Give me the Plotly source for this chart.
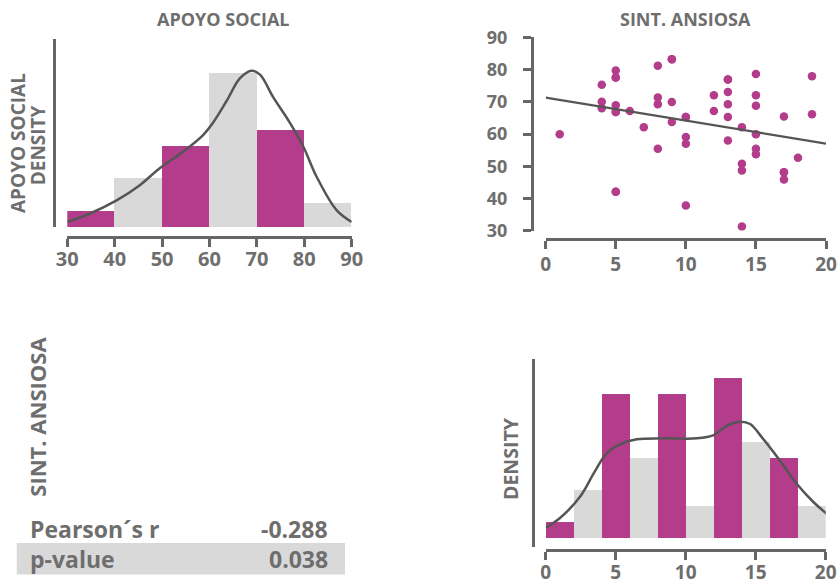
import plotly.graph_objects as go

# ---------------- data ----------------
# Histogram of APOYO SOCIAL (counts per bin)
apoyo_bins = [30, 40, 50, 60, 70, 80, 90]
apoyo_counts = [2, 6, 10, 19, 12, 3]
# density curve of APOYO SOCIAL
apoyo_kde_x = [30, 34.8, 40.4, 45.3, 49.5, 54.4, 58.6, 60.7, 63.7, 66.4, 68.9, 70.7, 73.4, 77.0, 79.8, 82.6, 86.8, 90]
apoyo_kde_y = [0.0012, 0.0032, 0.0063, 0.0099, 0.0139, 0.0178, 0.0217, 0.0246, 0.0300, 0.0352, 0.0370, 0.0360,
               0.0308, 0.0246, 0.0190, 0.0119, 0.0040, 0.0012]

# Histogram of SINT. ANSIOSA
ansiosa_bins = [0, 2, 4, 6, 8, 10, 12, 14, 16, 18, 20]
ansiosa_counts = [1, 3, 9, 5, 9, 2, 10, 6, 5, 2]
ansiosa_kde_x = [0, 1.0, 2.45, 3.5, 4.35, 5.3, 6.5, 8.4, 10.8, 12.0, 12.9, 13.9, 14.6, 15.5, 16.7, 17.9, 19.1, 20.1]
ansiosa_kde_y = [0.0066, 0.0123, 0.0252, 0.0403, 0.0513, 0.0567, 0.0597, 0.0603, 0.0603, 0.0623, 0.0677, 0.0703,
                 0.0689, 0.0603, 0.0473, 0.0333, 0.0222, 0.0148]

# Scatter: SINT. ANSIOSA (x) vs APOYO SOCIAL (y)
sint_ansiosa = [1, 4, 4, 4, 5, 5, 5, 5, 5, 6, 7, 8, 8, 8, 8, 9, 9, 9, 10, 10, 10, 10, 12, 12, 13, 13, 13, 13, 13,
                14, 14, 14, 14, 15, 15, 15, 15, 15, 15, 17, 17, 17, 18, 19, 19,
                9, 5, 17, 5, 13, 5, 10]
apoyo_social = [59.9, 75.3, 70.0, 68.0, 79.7, 77.5, 68.9, 66.8, 42.1, 67.1, 62.1, 81.2, 71.3, 69.2, 55.4, 83.2,
                69.9, 63.7, 65.3, 59.1, 57.0, 37.8, 72.0, 67.1, 76.9, 73.0, 69.2, 65.3, 58.0, 62.1, 50.8, 48.7,
                31.3, 78.6, 72.0, 68.8, 59.9, 55.4, 53.7, 65.4, 48.1, 45.9, 52.6, 77.9, 66.1,
                83.2, 42.1, 48.1, 77.5, 76.9, 66.8, 65.3]
fit_x = [0, 20]
fit_y = [71.3, 57.0]

stat_labels = ["Pearson´s r", "p-value"]
stat_values = ["-0.288", "0.038"]

apoyo_ticks = [30, 40, 50, 60, 70, 80, 90]
scatter_yticks = [30, 40, 50, 60, 70, 80, 90]
ansiosa_ticks = [0, 5, 10, 15, 20]

# ---------------- style ----------------
MAGENTA = "rgb(179,60,139)"
LIGHT = "rgb(217,217,217)"
TXT = "#6e6e6e"
AX = "#666666"
CURVE = "#555555"
FONT = "Open Sans"
W, H = 840, 587

def px_x(p):
    return p / W

def px_y(p):
    return 1 - p / H

n = len(sint_ansiosa)

fig = go.Figure()

def hist_trace(bins, counts, xa, ya):
    centers = [(bins[i] + bins[i + 1]) / 2 for i in range(len(counts))]
    widths = [bins[i + 1] - bins[i] for i in range(len(counts))]
    dens = [c / (n * w) for c, w in zip(counts, widths)]
    colors = [MAGENTA if i % 2 == 0 else LIGHT for i in range(len(counts))]
    return go.Bar(x=centers, y=dens, width=widths, marker=dict(color=colors, line=dict(width=0)),
                  xaxis=xa, yaxis=ya, showlegend=False, hoverinfo="skip")

fig.add_trace(hist_trace(apoyo_bins, apoyo_counts, "x", "y"))
fig.add_trace(go.Scatter(x=apoyo_kde_x, y=apoyo_kde_y, mode="lines", line=dict(color=CURVE, width=2.5, shape="spline"),
                         xaxis="x", yaxis="y", showlegend=False, cliponaxis=False))

fig.add_trace(go.Scatter(x=sint_ansiosa, y=apoyo_social, mode="markers",
                         marker=dict(color=MAGENTA, size=8.5, line=dict(width=0)),
                         xaxis="x2", yaxis="y2", showlegend=False))
fig.add_trace(go.Scatter(x=fit_x, y=fit_y, mode="lines", line=dict(color=CURVE, width=2.2),
                         xaxis="x2", yaxis="y2", showlegend=False))

fig.add_trace(hist_trace(ansiosa_bins, ansiosa_counts, "x3", "y3"))
fig.add_trace(go.Scatter(x=ansiosa_kde_x, y=ansiosa_kde_y, mode="lines", line=dict(color=CURVE, width=2.5, shape="spline"),
                         xaxis="x3", yaxis="y3", showlegend=False, cliponaxis=False))

def tf(size):
    return dict(family=FONT, size=size, color=TXT, weight="bold")

axis_common = dict(showgrid=False, zeroline=False, showline=True, linecolor=AX, linewidth=2.5,
                   automargin=False, tickcolor=AX, tickwidth=2.5, ticklen=8)

fig.update_layout(
    template="none",
    width=W, height=H, autosize=False,
    margin=dict(l=0, r=0, t=0, b=0, pad=0),
    paper_bgcolor="white", plot_bgcolor="white",
    bargap=0,
    showlegend=False,
    xaxis=dict(**axis_common, domain=[px_x(67.3), px_x(351.7)], range=[30, 90], anchor="free",
               position=px_y(237), tickvals=apoyo_ticks, ticks="outside", tickfont=tf(20), ticklabelstandoff=-5),
    yaxis=dict(**axis_common, domain=[px_y(227), px_y(39)], range=[0, 0.0445], anchor="free",
               position=px_x(54.3), showticklabels=False, ticks=""),
    xaxis2=dict(**axis_common, domain=[px_x(545.7), px_x(826)], range=[0, 20], anchor="free",
                position=px_y(239), tickvals=ansiosa_ticks, ticks="outside", tickfont=tf(19), ticklabelstandoff=-1),
    yaxis2=dict(**axis_common, domain=[px_y(230.7), px_y(37.3)], range=[30, 90], anchor="free",
                position=px_x(531.7), tickvals=scatter_yticks, ticks="outside", tickfont=tf(18), ticklabelstandoff=12),
    xaxis3=dict(**axis_common, domain=[px_x(545.7), px_x(825.7)], range=[0, 20], anchor="free",
                position=px_y(550), tickvals=ansiosa_ticks, ticks="outside", tickfont=tf(19), ticklabelstandoff=-4),
    yaxis3=dict(**axis_common, domain=[px_y(546.7), px_y(359.3)], range=[-0.0048, 0.1078], anchor="free",
                position=px_x(533.3), showticklabels=False, ticks=""),
)

def ann(text, x, y, size, angle=0, xanchor="center"):
    fig.add_annotation(text=text, x=x, y=y, xref="paper", yref="paper", showarrow=False,
                       textangle=angle, xanchor=xanchor, yanchor="middle",
                       font=tf(size))

ann("APOYO SOCIAL", px_x(223), px_y(19), 18)
ann("SINT. ANSIOSA", px_x(685), px_y(19), 18)
ann("APOYO SOCIAL", px_x(17.5), px_y(143.5), 19, angle=-90)
ann("DENSITY", px_x(38.3), px_y(145), 19, angle=-90)
ann("SINT. ANSIOSA", px_x(36.7), px_y(417), 22, angle=-90)
ann("DENSITY", px_x(510), px_y(458), 19.5, angle=-90)

fig.add_shape(type="rect", xref="paper", yref="paper", x0=px_x(16.7), x1=px_x(345), y0=px_y(574.5), y1=px_y(543),
              fillcolor=LIGHT, line=dict(width=0), layer="below")
row_y = [529, 558.5]
for lab, val, yy in zip(stat_labels, stat_values, row_y):
    ann(lab, px_x(28), px_y(yy), 23, xanchor="left")
    ann(val, px_x(330), px_y(yy), 23, xanchor="right")

fig.write_html("out.html")
